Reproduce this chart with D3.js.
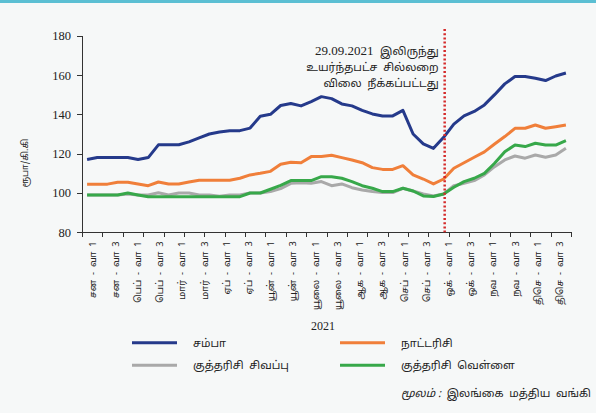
<!DOCTYPE html>
<html lang="ta">
<head>
<meta charset="UTF-8">
<title>அரிசி விலைகள் 2021</title>
<script src="https://d3js.org/d3.v7.min.js"></script>
<style>
    body { margin: 0; background: #f6f8f8; }
    svg { display: block; }
    .serif { font-family: "Liberation Serif", "DejaVu Serif", serif; }
    .tamil { font-family: "Noto Sans Tamil", "Lohit Tamil", "Noto Sans", sans-serif; }
    .axis path, .axis line { stroke: #333; shape-rendering: crispEdges; }
</style>
</head>
<body>
<div id="chart"></div>
<script>
    // x axis labels (every second week)
    const weekLabels = [
        "சன - வா 1", "சன - வா 3", "பெப் - வா 1", "பெப் - வா 3",
        "மார் - வா 1", "மார் - வா 3", "ஏப் - வா 1", "ஏப் - வா 3",
        "யூன் - வா 1", "யூன் - வா 3", "யூலை - வா 1", "யூலை - வா 3",
        "ஆக - வா 1", "ஆக - வா 3", "செப் - வா 1", "செப் - வா 3",
        "ஒக் - வா 1", "ஒக் - வா 3", "நவ - வா 1", "நவ - வா 3",
        "திசெ - வா 1", "திசெ - வா 3"
    ];
    const yTicks = [80, 100, 120, 140, 160, 180];

    // weekly prices (Rs/kg), 48 weeks
    const samba = [117, 118, 118, 118, 118, 117, 118, 124.5, 124.5, 124.5,
        126, 128, 130, 131, 131.7, 131.7, 133, 139, 140, 144.5,
        145.5, 144.3, 146.5, 149, 148, 145.3, 144.3, 142, 140.2, 139.2,
        139.2, 142, 130, 125, 122.7, 128.3, 135, 139.2, 141.5, 144.8,
        150, 155.5, 159.2, 159.2, 158.4, 157.2, 159.5, 161];
    const nadu = [104.5, 104.5, 104.5, 105.5, 105.5, 104.6, 103.7, 105.6, 104.6, 104.6,
        105.6, 106.5, 106.5, 106.5, 106.5, 107.5, 109.2, 110, 111, 114.6,
        115.6, 115.4, 118.5, 118.5, 119.2, 118, 116.8, 115.4, 112.9, 112,
        112, 113.9, 109.2, 107.1, 104.6, 107.1, 112.6, 115.4, 118.2, 120.9,
        124.9, 128.7, 132.9, 132.9, 134.6, 132.9, 133.7, 134.6];
    const kekuluRed = [99, 99, 99, 99, 99.5, 99, 99, 100.1, 99, 100,
        100, 99, 99, 98.3, 99, 99, 100, 100, 100.7, 102.2,
        104.9, 105.2, 104.9, 105.8, 103.7, 104.6, 102.7, 101.5, 100.7, 100.2,
        100.2, 102.4, 101, 99.5, 98.5, 99.5, 103.7, 104.9, 106.3, 109.2,
        113.4, 116.8, 118.8, 117.7, 119.3, 118.2, 119.3, 122.7];
    const kekuluWhite = [99, 99, 99, 99, 100, 99, 98.1, 98.1, 98.1, 98.1,
        98.1, 98.1, 98.1, 98.1, 98.1, 98.1, 100, 100, 101.9, 103.9,
        106.3, 106.3, 106.3, 108.3, 108.3, 107.5, 105.8, 103.7, 102.4, 100.7,
        100.7, 102.4, 101, 98.5, 98.2, 99.5, 102.9, 105.8, 107.5, 110,
        115.1, 121, 124.4, 123.6, 125.3, 124.4, 124.4, 126.6];

    const series = [
        { name: "சம்பா", values: samba, color: "#253a8b" },
        { name: "நாட்டரிசி", values: nadu, color: "#f07f3a" },
        { name: "குத்தரிசி சிவப்பு", values: kekuluRed, color: "#a9a9a9" },
        { name: "குத்தரிசி வெள்ளை", values: kekuluWhite, color: "#37a84a" }
    ];
    // draw order: red/white kekulu underneath
    const drawOrder = [2, 3, 1, 0];

    const removalWeek = 35.6; // 29.09.2021
    const noteLines = ["29.09.2021  இலிருந்து", "உயர்ந்தபட்ச  சில்லறை", "விலை  நீக்கப்பட்டது"];

    const W = 596, H = 413;
    const plot = { left: 82, right: 571, top: 35.7, bottom: 232.3 };

    const svg = d3.select("#chart").append("svg")
        .attr("width", W)
        .attr("height", H);

    svg.append("rect").attr("width", W).attr("height", H).attr("fill", "#f6f8f8");
    svg.append("rect").attr("width", W).attr("height", 3).attr("fill", "#5bbfd3");

    const x = d3.scaleLinear().domain([0, samba.length]).range([plot.left, plot.right]);
    const xLab = d3.scaleBand().domain(weekLabels).range([plot.left, plot.right]);
    const y = d3.scaleLinear().domain([80, 180]).range([plot.bottom, plot.top]);

    // y axis
    const yAxis = svg.append("g")
        .attr("class", "axis serif")
        .attr("transform", `translate(${plot.left},0)`)
        .call(d3.axisLeft(y).tickValues(yTicks).tickSize(5).tickPadding(6).tickSizeOuter(0));
    yAxis.selectAll("text").attr("font-size", 12.5).attr("fill", "#222").attr("font-family", "Liberation Serif");

    // x axis: tick marks every two weeks
    svg.append("g")
        .attr("class", "axis")
        .attr("transform", `translate(0,${plot.bottom})`)
        .call(d3.axisBottom(x).tickValues(d3.range(0, samba.length + 1, 2)).tickSize(5).tickFormat("").tickSizeOuter(0));

    // x labels, rotated
    const xl = svg.append("g")
        .attr("transform", `translate(0,${plot.bottom})`)
        .call(d3.axisBottom(xLab).tickSize(0).tickPadding(0).tickFormat(d => d.replace(/ /g, "  ")));
    xl.select(".domain").remove();
    xl.selectAll("text")
        .attr("class", "tamil")
        .attr("xml:space", "preserve")
        .attr("font-size", 9.3)
        .attr("fill", "#222")
        .attr("text-anchor", "end")
        .attr("dy", "0.35em")
        .attr("transform", "translate(0,9) rotate(-90)")
        .attr("x", 0)
        .attr("y", 0);

    // lines
    const line = d3.line()
        .x((d, i) => x(i + 0.5))
        .y(d => y(d));

    drawOrder.forEach(k => {
        const s = series[k];
        svg.append("path")
            .datum(s.values)
            .attr("d", line)
            .attr("fill", "none")
            .attr("stroke", s.color)
            .attr("stroke-width", 3)
            .attr("stroke-linejoin", "round");
    });

    // removal marker
    svg.append("line")
        .attr("x1", x(removalWeek)).attr("x2", x(removalWeek))
        .attr("y1", 29).attr("y2", plot.bottom)
        .attr("stroke", "#d42a2a")
        .attr("stroke-width", 2.5)
        .attr("stroke-dasharray", "2,2.2");

    svg.append("g")
        .attr("class", "tamil")
        .selectAll("text")
        .data(noteLines)
        .join("text")
        .attr("x", x(removalWeek) - 6)
        .attr("y", (d, i) => 55 + i * 16)
        .attr("text-anchor", "end")
        .attr("font-size", 11)
        .attr("fill", "#222")
        .each(function(d, i) {
            const t = d3.select(this);
            if (i === 0) {
                const parts = d.split("  ");
                t.append("tspan").attr("font-family", "Liberation Serif").attr("font-size", 13).text(parts[0] + "  ");
                t.append("tspan").text(parts[1]);
            } else {
                t.text(d);
            }
        })
        .attr("xml:space", "preserve");

    // y axis title
    svg.append("text")
        .attr("class", "tamil")
        .attr("transform", "translate(25,163) rotate(-90)")
        .attr("text-anchor", "middle")
        .attr("dy", "0.35em")
        .attr("font-size", 9)
        .attr("fill", "#222")
        .text("ரூபா/கி.கி");

    // year label
    svg.append("text")
        .attr("class", "serif")
        .attr("x", 323)
        .attr("y", 330)
        .attr("text-anchor", "middle")
        .attr("font-size", 12)
        .attr("fill", "#222")
        .text("2021");

    // legend
    const legendPos = [[132, 342.7], [340, 342.7], [132, 365.3], [340, 365.3]];
    const legend = svg.append("g").selectAll("g")
        .data(series)
        .join("g")
        .attr("transform", (d, i) => `translate(${legendPos[i][0]},${legendPos[i][1]})`);
    legend.append("line")
        .attr("x1", 0).attr("x2", 45)
        .attr("stroke", d => d.color)
        .attr("stroke-width", 3);
    legend.append("text")
        .attr("class", "tamil")
        .attr("x", 61)
        .attr("dy", "0.35em")
        .attr("font-size", 11)
        .attr("fill", "#222")
        .attr("xml:space", "preserve")
        .text(d => d.name.replace(" ", "  "));

    // source
    const src = svg.append("text")
        .attr("class", "tamil")
        .attr("x", 591)
        .attr("y", 397)
        .attr("text-anchor", "end")
        .attr("font-size", 11)
        .attr("fill", "#222")
        .attr("xml:space", "preserve");
    src.append("tspan").attr("font-style", "italic").text("மூலம் :  ");
    src.append("tspan").text("இலங்கை  மத்திய  வங்கி");
</script>
</body>
</html>
